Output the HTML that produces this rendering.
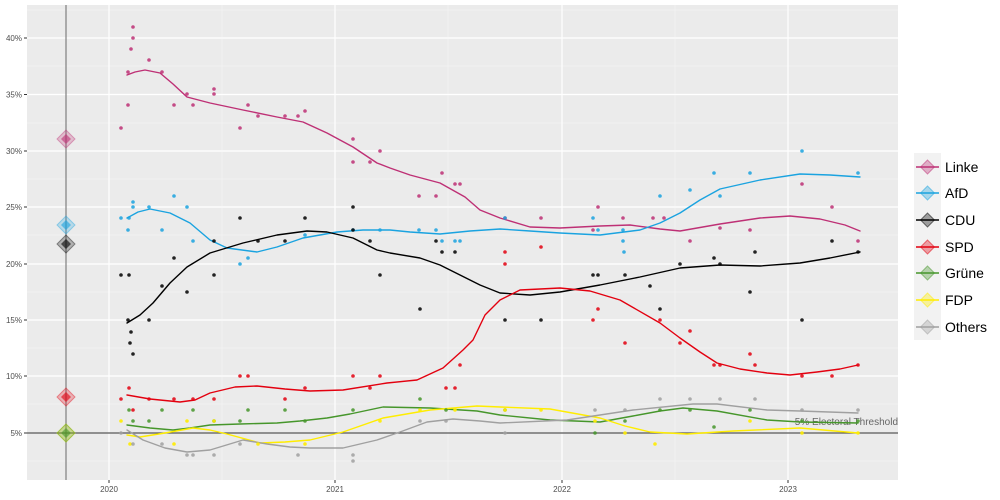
<!DOCTYPE html>
<html><head><meta charset="utf-8"><style>
body{margin:0;background:#fff;}
svg{display:block;font-family:"Liberation Sans",sans-serif;}
</style></head><body>
<svg width="1000" height="500" viewBox="0 0 1000 500">
<rect x="27" y="5" width="871" height="475" fill="#ebebeb"/>
<g stroke="#f5f5f5" stroke-width="0.6">
<line x1="27" x2="898" y1="66" y2="66"/><line x1="27" x2="898" y1="123" y2="123"/><line x1="27" x2="898" y1="179" y2="179"/><line x1="27" x2="898" y1="235" y2="235"/><line x1="27" x2="898" y1="292" y2="292"/><line x1="27" x2="898" y1="348" y2="348"/><line x1="27" x2="898" y1="404" y2="404"/><line x1="27" x2="898" y1="461" y2="461"/><line x1="27" x2="898" y1="10" y2="10"/>
<line y1="5" y2="480" x1="222" x2="222"/><line y1="5" y2="480" x1="448" x2="448"/><line y1="5" y2="480" x1="675" x2="675"/>
</g>
<g stroke="#fff" stroke-width="1.2">
<line x1="27" x2="898" y1="38" y2="38"/><line x1="27" x2="898" y1="94.5" y2="94.5"/><line x1="27" x2="898" y1="151" y2="151"/><line x1="27" x2="898" y1="207" y2="207"/><line x1="27" x2="898" y1="264" y2="264"/><line x1="27" x2="898" y1="320" y2="320"/><line x1="27" x2="898" y1="376" y2="376"/><line x1="27" x2="898" y1="433" y2="433"/>
<line y1="5" y2="480" x1="109" x2="109"/><line y1="5" y2="480" x1="335" x2="335"/><line y1="5" y2="480" x1="562" x2="562"/><line y1="5" y2="480" x1="788" x2="788"/>
</g>
<g font-size="8" fill="#4d4d4d" text-anchor="end">
<text x="22" y="41">40%</text><text x="22" y="97.5">35%</text><text x="22" y="154">30%</text><text x="22" y="210">25%</text><text x="22" y="267">20%</text><text x="22" y="323">15%</text><text x="22" y="379">10%</text><text x="22" y="436">5%</text>
</g>
<g stroke="#333" stroke-width="1"><line x1="24" x2="27" y1="38" y2="38"/><line x1="24" x2="27" y1="94.5" y2="94.5"/><line x1="24" x2="27" y1="151" y2="151"/><line x1="24" x2="27" y1="207" y2="207"/><line x1="24" x2="27" y1="264" y2="264"/><line x1="24" x2="27" y1="320" y2="320"/><line x1="24" x2="27" y1="376" y2="376"/><line x1="24" x2="27" y1="433" y2="433"/>
<line x1="109" x2="109" y1="480" y2="483"/><line x1="335" x2="335" y1="480" y2="483"/><line x1="562" x2="562" y1="480" y2="483"/><line x1="788" x2="788" y1="480" y2="483"/></g>
<g font-size="8" fill="#4d4d4d" text-anchor="middle"><text x="109" y="492">2020</text><text x="335" y="492">2021</text><text x="562" y="492">2022</text><text x="788" y="492">2023</text></g>
<line x1="66" x2="66" y1="5" y2="480" stroke="#888" stroke-width="1.3"/>
<line x1="27" x2="898" y1="433" y2="433" stroke="#555" stroke-width="1.3"/>
<text x="898" y="425" font-size="10" fill="#666" text-anchor="end">5% Electoral Threshold</text>

<g fill="none" stroke-width="1.4" stroke-linejoin="round" stroke-linecap="round">
<polyline stroke="#be3075" points="127,75 135,72 145,70 160,73 173,84 187,97 210,103 243,110 277,117 303,122 327,133 353,147 377,163 390,168 410,175 440,183 465,197 480,210 500,218 530,227 560,228 600,226 630,225 660,229 680,231 720,224 760,218 790,216 820,219 845,225 860,231"/>
<polyline stroke="#1aa3e0" points="127,218 138,212 150,209 170,213 190,223 210,240 227,248 257,252 277,247 303,238 337,232 363,230 390,230 410,232 440,234 470,231 500,229 530,231 560,233 600,235 640,230 660,223 680,213 700,200 720,189 760,180 800,174 830,175 860,177"/>
<polyline stroke="#000" points="127,323 140,315 153,303 170,283 187,267 210,253 243,243 277,235 307,231 327,232 353,238 377,250 390,253 420,258 440,265 460,275 480,285 500,293 530,295 560,292 600,285 640,277 680,268 720,265 760,266 800,263 830,258 860,252"/>
<polyline stroke="#e3000f" points="127,395 150,399 180,402 195,400 210,393 235,387 257,386 285,389 310,391 343,390 387,383 417,380 443,368 463,350 473,340 485,315 500,300 520,290 560,288 590,291 620,300 660,323 680,338 700,352 717,363 740,369 767,373 790,375 817,372 840,369 858,365"/>
<polyline stroke="#46962b" points="127,425 150,428 173,430 190,428 210,425 240,424 277,423 300,421 327,418 350,414 383,407 430,408 477,411 500,415 550,420 600,422 633,416 660,411 683,408 717,411 767,420 800,422 858,423"/>
<polyline stroke="#ffed00" points="127,435 140,437 165,433 193,428 210,430 227,434 260,443 285,442 310,440 343,432 383,418 430,410 477,406 500,407 550,409 600,418 625,426 650,432 687,434 733,431 800,428 858,433"/>
<polyline stroke="#a0a0a0" points="127,430 143,440 165,448 187,452 210,450 243,440 267,444 290,447 310,448 343,448 377,440 400,432 427,422 453,419 480,421 500,423 567,420 633,410 693,404 717,404 767,410 800,411 858,413"/>
</g>
<g fill="#be3075" opacity="0.85">
<circle cx="121" cy="128" r="1.8"/><circle cx="128" cy="105" r="1.8"/><circle cx="128" cy="72" r="1.8"/><circle cx="133" cy="27" r="1.8"/><circle cx="133" cy="38" r="1.8"/><circle cx="131" cy="49" r="1.8"/><circle cx="149" cy="60" r="1.8"/><circle cx="162" cy="72" r="1.8"/><circle cx="174" cy="105" r="1.8"/><circle cx="187" cy="94" r="1.8"/><circle cx="193" cy="105" r="1.8"/><circle cx="214" cy="89" r="1.8"/><circle cx="214" cy="94" r="1.8"/><circle cx="240" cy="128" r="1.8"/><circle cx="248" cy="105" r="1.8"/><circle cx="258" cy="116" r="1.8"/><circle cx="285" cy="116" r="1.8"/><circle cx="298" cy="116" r="1.8"/><circle cx="305" cy="111" r="1.8"/><circle cx="353" cy="139" r="1.8"/><circle cx="353" cy="162" r="1.8"/><circle cx="370" cy="162" r="1.8"/><circle cx="380" cy="151" r="1.8"/><circle cx="419" cy="196" r="1.8"/><circle cx="436" cy="196" r="1.8"/><circle cx="442" cy="173" r="1.8"/><circle cx="455" cy="184" r="1.8"/><circle cx="460" cy="184" r="1.8"/><circle cx="505" cy="218" r="1.8"/><circle cx="541" cy="218" r="1.8"/><circle cx="593" cy="230" r="1.8"/><circle cx="598" cy="207" r="1.8"/><circle cx="623" cy="218" r="1.8"/><circle cx="653" cy="218" r="1.8"/><circle cx="664" cy="218" r="1.8"/><circle cx="690" cy="241" r="1.8"/><circle cx="720" cy="228" r="1.8"/><circle cx="750" cy="230" r="1.8"/><circle cx="802" cy="184" r="1.8"/><circle cx="832" cy="207" r="1.8"/><circle cx="858" cy="241" r="1.8"/></g>
<g fill="#1aa3e0" opacity="0.85">
<circle cx="121" cy="218" r="1.8"/><circle cx="129" cy="218" r="1.8"/><circle cx="128" cy="230" r="1.8"/><circle cx="133" cy="202" r="1.8"/><circle cx="133" cy="207" r="1.8"/><circle cx="149" cy="207" r="1.8"/><circle cx="162" cy="230" r="1.8"/><circle cx="174" cy="196" r="1.8"/><circle cx="187" cy="207" r="1.8"/><circle cx="193" cy="241" r="1.8"/><circle cx="240" cy="264" r="1.8"/><circle cx="248" cy="258" r="1.8"/><circle cx="305" cy="235" r="1.8"/><circle cx="353" cy="230" r="1.8"/><circle cx="380" cy="230" r="1.8"/><circle cx="419" cy="230" r="1.8"/><circle cx="436" cy="230" r="1.8"/><circle cx="442" cy="241" r="1.8"/><circle cx="455" cy="241" r="1.8"/><circle cx="460" cy="241" r="1.8"/><circle cx="505" cy="218" r="1.8"/><circle cx="593" cy="218" r="1.8"/><circle cx="598" cy="230" r="1.8"/><circle cx="623" cy="230" r="1.8"/><circle cx="623" cy="241" r="1.8"/><circle cx="624" cy="252" r="1.8"/><circle cx="660" cy="196" r="1.8"/><circle cx="690" cy="190" r="1.8"/><circle cx="714" cy="173" r="1.8"/><circle cx="720" cy="196" r="1.8"/><circle cx="750" cy="173" r="1.8"/><circle cx="802" cy="151" r="1.8"/><circle cx="858" cy="173" r="1.8"/></g>
<g fill="#000" opacity="0.85">
<circle cx="121" cy="275" r="1.8"/><circle cx="129" cy="275" r="1.8"/><circle cx="128" cy="320" r="1.8"/><circle cx="130" cy="343" r="1.8"/><circle cx="131" cy="332" r="1.8"/><circle cx="133" cy="354" r="1.8"/><circle cx="149" cy="320" r="1.8"/><circle cx="162" cy="286" r="1.8"/><circle cx="174" cy="258" r="1.8"/><circle cx="187" cy="292" r="1.8"/><circle cx="214" cy="275" r="1.8"/><circle cx="214" cy="241" r="1.8"/><circle cx="240" cy="218" r="1.8"/><circle cx="258" cy="241" r="1.8"/><circle cx="285" cy="241" r="1.8"/><circle cx="305" cy="218" r="1.8"/><circle cx="353" cy="207" r="1.8"/><circle cx="353" cy="230" r="1.8"/><circle cx="370" cy="241" r="1.8"/><circle cx="380" cy="275" r="1.8"/><circle cx="420" cy="309" r="1.8"/><circle cx="436" cy="241" r="1.8"/><circle cx="442" cy="252" r="1.8"/><circle cx="455" cy="252" r="1.8"/><circle cx="505" cy="320" r="1.8"/><circle cx="541" cy="320" r="1.8"/><circle cx="593" cy="275" r="1.8"/><circle cx="598" cy="275" r="1.8"/><circle cx="625" cy="275" r="1.8"/><circle cx="650" cy="286" r="1.8"/><circle cx="660" cy="309" r="1.8"/><circle cx="680" cy="264" r="1.8"/><circle cx="714" cy="258" r="1.8"/><circle cx="720" cy="264" r="1.8"/><circle cx="750" cy="292" r="1.8"/><circle cx="755" cy="252" r="1.8"/><circle cx="802" cy="320" r="1.8"/><circle cx="832" cy="241" r="1.8"/><circle cx="858" cy="252" r="1.8"/></g>
<g fill="#e3000f" opacity="0.85">
<circle cx="121" cy="399" r="1.8"/><circle cx="129" cy="388" r="1.8"/><circle cx="133" cy="410" r="1.8"/><circle cx="149" cy="399" r="1.8"/><circle cx="174" cy="399" r="1.8"/><circle cx="193" cy="399" r="1.8"/><circle cx="214" cy="399" r="1.8"/><circle cx="240" cy="376" r="1.8"/><circle cx="248" cy="376" r="1.8"/><circle cx="285" cy="399" r="1.8"/><circle cx="305" cy="388" r="1.8"/><circle cx="353" cy="376" r="1.8"/><circle cx="370" cy="388" r="1.8"/><circle cx="380" cy="376" r="1.8"/><circle cx="446" cy="388" r="1.8"/><circle cx="455" cy="388" r="1.8"/><circle cx="460" cy="365" r="1.8"/><circle cx="505" cy="252" r="1.8"/><circle cx="505" cy="264" r="1.8"/><circle cx="541" cy="247" r="1.8"/><circle cx="593" cy="320" r="1.8"/><circle cx="598" cy="309" r="1.8"/><circle cx="625" cy="343" r="1.8"/><circle cx="660" cy="320" r="1.8"/><circle cx="680" cy="343" r="1.8"/><circle cx="690" cy="331" r="1.8"/><circle cx="714" cy="365" r="1.8"/><circle cx="720" cy="365" r="1.8"/><circle cx="750" cy="354" r="1.8"/><circle cx="755" cy="365" r="1.8"/><circle cx="802" cy="376" r="1.8"/><circle cx="832" cy="376" r="1.8"/><circle cx="858" cy="365" r="1.8"/></g>
<g fill="#46962b" opacity="0.85">
<circle cx="129" cy="410" r="1.8"/><circle cx="133" cy="421" r="1.8"/><circle cx="149" cy="421" r="1.8"/><circle cx="162" cy="410" r="1.8"/><circle cx="193" cy="410" r="1.8"/><circle cx="214" cy="421" r="1.8"/><circle cx="240" cy="421" r="1.8"/><circle cx="248" cy="410" r="1.8"/><circle cx="285" cy="410" r="1.8"/><circle cx="305" cy="421" r="1.8"/><circle cx="353" cy="410" r="1.8"/><circle cx="420" cy="399" r="1.8"/><circle cx="446" cy="410" r="1.8"/><circle cx="505" cy="410" r="1.8"/><circle cx="595" cy="433" r="1.8"/><circle cx="625" cy="421" r="1.8"/><circle cx="660" cy="410" r="1.8"/><circle cx="690" cy="410" r="1.8"/><circle cx="714" cy="427" r="1.8"/><circle cx="750" cy="410" r="1.8"/><circle cx="802" cy="421" r="1.8"/><circle cx="858" cy="421" r="1.8"/></g>
<g fill="#ffed00" opacity="0.9">
<circle cx="121" cy="421" r="1.8"/><circle cx="130" cy="444" r="1.8"/><circle cx="174" cy="444" r="1.8"/><circle cx="187" cy="421" r="1.8"/><circle cx="214" cy="421" r="1.8"/><circle cx="258" cy="444" r="1.8"/><circle cx="305" cy="444" r="1.8"/><circle cx="380" cy="421" r="1.8"/><circle cx="420" cy="410" r="1.8"/><circle cx="455" cy="410" r="1.8"/><circle cx="505" cy="410" r="1.8"/><circle cx="541" cy="410" r="1.8"/><circle cx="595" cy="421" r="1.8"/><circle cx="625" cy="433" r="1.8"/><circle cx="655" cy="444" r="1.8"/><circle cx="750" cy="421" r="1.8"/><circle cx="802" cy="433" r="1.8"/><circle cx="858" cy="433" r="1.8"/></g>
<g fill="#a0a0a0" opacity="0.85">
<circle cx="121" cy="433" r="1.8"/><circle cx="133" cy="444" r="1.8"/><circle cx="162" cy="444" r="1.8"/><circle cx="187" cy="455" r="1.8"/><circle cx="193" cy="455" r="1.8"/><circle cx="214" cy="455" r="1.8"/><circle cx="240" cy="444" r="1.8"/><circle cx="298" cy="455" r="1.8"/><circle cx="353" cy="461" r="1.8"/><circle cx="353" cy="455" r="1.8"/><circle cx="420" cy="421" r="1.8"/><circle cx="446" cy="421" r="1.8"/><circle cx="505" cy="433" r="1.8"/><circle cx="595" cy="410" r="1.8"/><circle cx="625" cy="410" r="1.8"/><circle cx="660" cy="399" r="1.8"/><circle cx="690" cy="399" r="1.8"/><circle cx="720" cy="399" r="1.8"/><circle cx="755" cy="399" r="1.8"/><circle cx="802" cy="410" r="1.8"/><circle cx="858" cy="410" r="1.8"/></g>

<g stroke-width="1">
<polygon points="66,130 75,139 66,148 57,139" fill="#be3075" fill-opacity="0.25" stroke="#be3075" stroke-opacity="0.4"/><polygon points="66,134 71,139 66,144 61,139" fill="#be3075" fill-opacity="0.6"/>
<polygon points="66,216 75,225 66,234 57,225" fill="#1aa3e0" fill-opacity="0.25" stroke="#1aa3e0" stroke-opacity="0.4"/><polygon points="66,220 71,225 66,230 61,225" fill="#1aa3e0" fill-opacity="0.6"/>
<polygon points="66,235 75,244 66,253 57,244" fill="#000" fill-opacity="0.25" stroke="#000" stroke-opacity="0.4"/><polygon points="66,239 71,244 66,249 61,244" fill="#000" fill-opacity="0.6"/>
<polygon points="66,388 75,397 66,406 57,397" fill="#e3000f" fill-opacity="0.25" stroke="#e3000f" stroke-opacity="0.4"/><polygon points="66,392 71,397 66,402 61,397" fill="#e3000f" fill-opacity="0.6"/>
<polygon points="66,424 75,433 66,442 57,433" fill="#ffed00" fill-opacity="0.25" stroke="#ffed00" stroke-opacity="0.5"/>
<polygon points="66,424 75,433 66,442 57,433" fill="#46962b" fill-opacity="0.25" stroke="#46962b" stroke-opacity="0.4"/><polygon points="66,428 71,433 66,438 61,433" fill="#46962b" fill-opacity="0.6"/>
</g>

<rect x="914" y="153" width="27" height="187" fill="#f2f2f2"/>
<g font-size="14" fill="#000">
<text x="945" y="172">Linke</text><text x="945" y="198">AfD</text><text x="945" y="225">CDU</text><text x="945" y="252">SPD</text><text x="945" y="278">Grüne</text><text x="945" y="305">FDP</text><text x="945" y="332">Others</text>
</g>
<g stroke-width="1.4">
<g stroke="#be3075"><line x1="916" x2="939" y1="167" y2="167"/><polygon points="927.5,160 934.5,167 927.5,174 920.5,167" fill="#be3075" fill-opacity="0.35" stroke-opacity="0.5" stroke-width="1"/></g>
<g stroke="#1aa3e0"><line x1="916" x2="939" y1="193" y2="193"/><polygon points="927.5,186 934.5,193 927.5,200 920.5,193" fill="#1aa3e0" fill-opacity="0.35" stroke-opacity="0.5" stroke-width="1"/></g>
<g stroke="#000"><line x1="916" x2="939" y1="220" y2="220"/><polygon points="927.5,213 934.5,220 927.5,227 920.5,220" fill="#000" fill-opacity="0.35" stroke-opacity="0.5" stroke-width="1"/></g>
<g stroke="#e3000f"><line x1="916" x2="939" y1="247" y2="247"/><polygon points="927.5,240 934.5,247 927.5,254 920.5,247" fill="#e3000f" fill-opacity="0.35" stroke-opacity="0.5" stroke-width="1"/></g>
<g stroke="#46962b"><line x1="916" x2="939" y1="273" y2="273"/><polygon points="927.5,266 934.5,273 927.5,280 920.5,273" fill="#46962b" fill-opacity="0.35" stroke-opacity="0.5" stroke-width="1"/></g>
<g stroke="#ffed00"><line x1="916" x2="939" y1="300" y2="300"/><polygon points="927.5,293 934.5,300 927.5,307 920.5,300" fill="#ffed00" fill-opacity="0.35" stroke-opacity="0.5" stroke-width="1"/></g>
<g stroke="#a0a0a0"><line x1="916" x2="939" y1="327" y2="327"/><polygon points="927.5,320 934.5,327 927.5,334 920.5,327" fill="#a0a0a0" fill-opacity="0.35" stroke-opacity="0.5" stroke-width="1"/></g>
</g>
</svg>
</body></html>
